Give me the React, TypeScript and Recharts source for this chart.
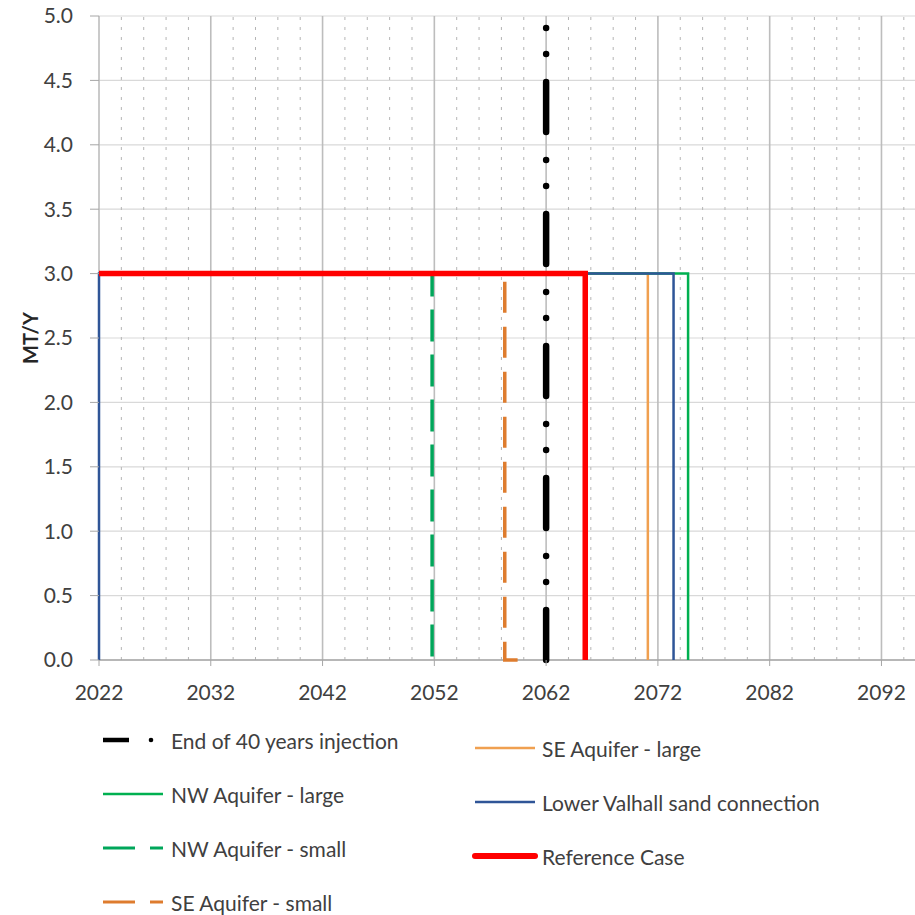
import React from 'react';
import { LineChart, Line, XAxis, YAxis, CartesianGrid, ReferenceLine, Legend } from 'recharts';

// Axis ticks
const yearTicks = [2022, 2032, 2042, 2052, 2062, 2072, 2082, 2092];
const minorYears = [
  2024, 2026, 2028, 2030, 2034, 2036, 2038, 2040, 2044, 2046, 2048, 2050,
  2054, 2056, 2058, 2060, 2064, 2066, 2068, 2070, 2074, 2076, 2078, 2080,
  2084, 2086, 2088, 2090, 2094,
];
const rateTicks = [0, 0.5, 1, 1.5, 2, 2.5, 3, 3.5, 4, 4.5, 5];

// Injection rate profiles (year, MT/Y)
const injectionEndYears = [2062, 2062];
const injectionEndRates = [0, 4.95];

const nwLargeYears = [2022, 2074.7, 2074.7];
const nwLargeRates = [3, 3, 0];

const nwSmallYears = [2022, 2051.8, 2051.8];
const nwSmallRates = [3, 3, 0];

const seSmallYears = [2022, 2058.3, 2058.3, 2059.5];
const seSmallRates = [3, 3, 0, 0];

const seLargeYears = [2022, 2071.1, 2071.1];
const seLargeRates = [3, 3, 0];

const valhallYears = [2022, 2022, 2073.4, 2073.4];
const valhallRates = [0, 3, 3, 0];

const referenceYears = [2022, 2065.5, 2065.5];
const referenceRates = [3, 3, 0];

const toPoints = (years: number[], rates: number[]) =>
  years.map((year, i) => ({ year, rate: rates[i] }));

type Series = {
  key: string;
  name: string;
  color: string;
  width: number;
  dash?: string;
  dashOffset?: number;
  cap?: 'round' | 'butt';
  symbol: 'solid' | 'dash' | 'dashdot';
  data: { year: number; rate: number }[];
};

const endInjection: Series = {
  key: 'end', name: 'End of 40 years injection', color: '#000000', width: 6.5,
  dash: '50 28 0 26 0 28', cap: 'round', symbol: 'dashdot',
  data: toPoints(injectionEndYears, injectionEndRates),
};
const nwLarge: Series = {
  key: 'nwl', name: 'NW Aquifer - large', color: '#00B050', width: 2.5, symbol: 'solid',
  data: toPoints(nwLargeYears, nwLargeRates),
};
const nwSmall: Series = {
  key: 'nws', name: 'NW Aquifer - small', color: '#00A65A', width: 3.5,
  dash: '32 13', dashOffset: 36, symbol: 'dash',
  data: toPoints(nwSmallYears, nwSmallRates),
};
const seSmall: Series = {
  key: 'ses', name: 'SE Aquifer - small', color: '#DE7C2E', width: 3.5,
  dash: '31 14', dashOffset: 36, symbol: 'dash',
  data: toPoints(seSmallYears, seSmallRates),
};
const seLarge: Series = {
  key: 'sel', name: 'SE Aquifer - large', color: '#F0A050', width: 2.5, symbol: 'solid',
  data: toPoints(seLargeYears, seLargeRates),
};
const valhall: Series = {
  key: 'val', name: 'Lower Valhall sand connection', color: '#2F5597', width: 2.5, symbol: 'solid',
  data: toPoints(valhallYears, valhallRates),
};
const referenceCase: Series = {
  key: 'ref', name: 'Reference Case', color: '#FF0000', width: 5.5, symbol: 'solid',
  data: toPoints(referenceYears, referenceRates),
};

// drawing order (later = on top)
const drawOrder = [seLarge, nwLarge, valhall, nwSmall, seSmall, endInjection, referenceCase];
// legend columns
const legendLeft = [endInjection, nwLarge, nwSmall, seSmall];
const legendRight = [seLarge, valhall, referenceCase];

const TEXT = '#404040';
const FONT = 'Lato, "Open Sans", sans-serif';
const FONT_SIZE = 21;

const LegendSymbol = ({ s, x, y }: { s: Series; x: number; y: number }) => {
  if (s.symbol === 'dashdot') {
    return (
      <g>
        <line x1={x} y1={y} x2={x + 26} y2={y} stroke={s.color} strokeWidth={4.5} />
        <circle cx={x + 48} cy={y} r={2.3} fill={s.color} />
      </g>
    );
  }
  if (s.symbol === 'dash') {
    return (
      <g>
        <line x1={x} y1={y} x2={x + 32} y2={y} stroke={s.color} strokeWidth={3} />
        <line x1={x + 47} y1={y} x2={x + 60} y2={y} stroke={s.color} strokeWidth={3} />
      </g>
    );
  }
  return (
    <line
      x1={x} y1={y} x2={x + 60} y2={y}
      stroke={s.color}
      strokeWidth={s.key === 'ref' ? 6 : 2.5}
      strokeLinecap={s.key === 'ref' ? 'round' : 'butt'}
    />
  );
};

const renderLegend = () => (
  <svg width={915} height={215} style={{ display: 'block' }}>
    {legendLeft.map((s, i) => (
      <g key={s.key}>
        <LegendSymbol s={s} x={103} y={40 + i * 54} />
        <text x={171} y={40 + i * 54} dominantBaseline="central" fontSize={FONT_SIZE} fill={TEXT} fontFamily={FONT}>
          {s.name}
        </text>
      </g>
    ))}
    {legendRight.map((s, i) => (
      <g key={s.key}>
        <LegendSymbol s={s} x={475} y={48 + i * 54} />
        <text x={542} y={48 + i * 54} dominantBaseline="central" fontSize={FONT_SIZE} fill={TEXT} fontFamily={FONT}>
          {s.name}
        </text>
      </g>
    ))}
  </svg>
);

const renderYLabel = (props: any) => {
  const vb = props.viewBox || { x: 0, y: 16, width: 99, height: 644 };
  const cx = vb.x + 30;
  const cy = vb.y + vb.height / 2;
  return (
    <text
      x={cx} y={cy}
      transform={`rotate(-90 ${cx} ${cy})`}
      textAnchor="middle" dominantBaseline="central"
      fontSize={20} fontWeight="bold" fill="#262626" fontFamily={FONT}
    >
      MT/Y
    </text>
  );
};

export default function App() {
  return (
    <div style={{ position: 'absolute', left: 0, top: 0, width: 915, height: 915, background: '#fff' }}>
      {/* the legend's own height (215) is reserved below the x axis by the chart */}
      <LineChart width={915} height={915} margin={{ top: 16, right: 0, bottom: 0, left: 0 }}>
        <CartesianGrid vertical={false} stroke="#D9D9D9" strokeWidth={1.2} />
        {minorYears.map((y) => (
          <ReferenceLine key={`m${y}`} x={y} stroke="#B5B5B5" strokeWidth={1} strokeDasharray="3 7" />
        ))}
        {yearTicks.map((y) => (
          <ReferenceLine key={`M${y}`} x={y} stroke="#BDBDBD" strokeWidth={1.6} />
        ))}
        {/* baseline kept beneath the series */}
        <ReferenceLine y={0} stroke="#A6A6A6" strokeWidth={1.5} />
        <XAxis
          type="number"
          dataKey="year"
          domain={[2022, 2095]}
          ticks={yearTicks}
          interval={0}
          allowDecimals={false}
          height={40}
          tickSize={6}
          tickMargin={19}
          axisLine={false}
          tickLine={{ stroke: '#A6A6A6' }}
          tick={{ fill: TEXT, fontSize: FONT_SIZE, fontFamily: FONT }}
        />
        <YAxis
          type="number"
          dataKey="rate"
          domain={[0, 5]}
          ticks={rateTicks}
          interval={0}
          width={99}
          tickSize={9}
          tickMargin={17}
          tickFormatter={(v: number) => v.toFixed(1)}
          axisLine={false}
          tickLine={{ stroke: '#A6A6A6' }}
          tick={{ fill: TEXT, fontSize: FONT_SIZE, fontFamily: FONT }}
          label={renderYLabel}
        />
        {drawOrder.map((s) => (
          <Line
            key={s.key}
            data={s.data}
            dataKey="rate"
            name={s.name}
            type="linear"
            stroke={s.color}
            strokeWidth={s.width}
            strokeDasharray={s.dash}
            strokeDashoffset={s.dashOffset}
            strokeLinecap={s.cap || 'butt'}
            dot={false}
            activeDot={false}
            isAnimationActive={false}
          />
        ))}
        <Legend
          layout="vertical"
          align="center"
          verticalAlign="bottom"
          content={renderLegend}
          wrapperStyle={{ position: 'absolute', left: 0, top: 700, width: 915, height: 215 }}
        />
      </LineChart>
    </div>
  );
}
